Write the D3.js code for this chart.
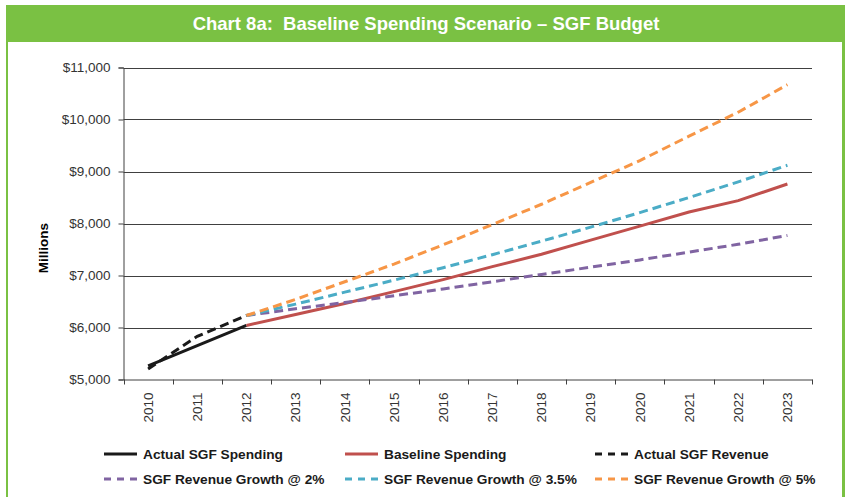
<!DOCTYPE html>
<html>
<head>
<meta charset="utf-8">
<script src="https://cdn.jsdelivr.net/npm/d3@7"></script>
<style>
  body { margin: 0; background: #fff; }
  svg { display: block; font-family: "Liberation Sans", Arial, sans-serif; }
</style>
</head>
<body>
<div id="chart"></div>
<script>
// data
const years = ["2010","2011","2012","2013","2014","2015","2016","2017","2018","2019","2020","2021","2022","2023"];
const actualSpending = [5260, 5650, 6040, null, null, null, null, null, null, null, null, null, null, null];
const baselineSpending = [null, null, 6040, 6250, 6460, 6690, 6920, 7170, 7410, 7680, 7950, 8220, 8440, 8760];
const actualRevenue = [5200, 5830, 6230, null, null, null, null, null, null, null, null, null, null, null];
const growth2 = [null, null, 6230, 6360, 6480, 6610, 6740, 6880, 7020, 7160, 7300, 7450, 7600, 7770];
const growth35 = [null, null, 6230, 6450, 6680, 6910, 7150, 7400, 7660, 7930, 8210, 8500, 8800, 9120];
const growth5 = [null, null, 6230, 6540, 6880, 7220, 7590, 7980, 8370, 8790, 9210, 9680, 10140, 10670];
const yTicks = [5000, 6000, 7000, 8000, 9000, 10000, 11000];

const series = [
  { name: "Actual SGF Spending", values: actualSpending, color: "#1a1a1a", dash: null },
  { name: "Baseline Spending", values: baselineSpending, color: "#c0504d", dash: null },
  { name: "Actual SGF Revenue", values: actualRevenue, color: "#1a1a1a", dash: "9,5" },
  { name: "SGF Revenue Growth @ 2%", values: growth2, color: "#8064a2", dash: "9,5" },
  { name: "SGF Revenue Growth @ 3.5%", values: growth35, color: "#4bacc6", dash: "9,5" },
  { name: "SGF Revenue Growth @ 5%", values: growth5, color: "#f79646", dash: "9,5" }
];

const width = 845;
const height = 497;
const margin = { top: 67.5, right: 33, bottom: 117.5, left: 123.5 };
const green = "#7ac143";

const svg = d3.select("#chart")
  .append("svg")
  .attr("width", width)
  .attr("height", height);

// frame and title bar
svg.append("rect").attr("x", 6).attr("y", 5).attr("width", 2).attr("height", height - 5).attr("fill", green);
svg.append("rect").attr("x", 842).attr("y", 5).attr("width", 3).attr("height", height - 5).attr("fill", green);
svg.append("rect").attr("x", 6).attr("y", 5).attr("width", width - 6).attr("height", 37).attr("fill", green);
svg.append("text")
  .attr("x", 426)
  .attr("y", 30)
  .attr("text-anchor", "middle")
  .attr("fill", "#fff")
  .attr("font-weight", "bold")
  .attr("font-size", 18.5)
  .style("white-space", "pre")
  .text("Chart 8a:  Baseline Spending Scenario \u2013 SGF Budget");

const x = d3.scaleBand()
  .domain(years)
  .range([margin.left, width - margin.right]);

const y = d3.scaleLinear()
  .domain([5000, 11000])
  .range([height - margin.bottom, margin.top]);

// y axis
const yAxis = svg.append("g")
  .attr("transform", `translate(${margin.left},0)`)
  .call(d3.axisLeft(y)
    .tickValues(yTicks)
    .tickSize(5)
    .tickPadding(8)
    .tickFormat(d => "$" + d3.format(",")(d)));
yAxis.select(".domain").attr("stroke", "#404040");
yAxis.selectAll(".tick line").attr("stroke", "#404040");
yAxis.selectAll(".tick text")
  .attr("font-size", 13.5)
  .attr("fill", "#333")
  .attr("font-family", "Liberation Sans, Arial, sans-serif");

// gridlines
svg.append("g")
  .selectAll("line")
  .data(yTicks.filter(d => d > 5000))
  .join("line")
  .attr("x1", margin.left)
  .attr("x2", width - margin.right)
  .attr("y1", d => Math.round(y(d)) + 0.5)
  .attr("y2", d => Math.round(y(d)) + 0.5)
  .attr("stroke", "#404040")
  .attr("stroke-width", 1);

// x axis, ticks at band edges
const xAxis = svg.append("g")
  .attr("transform", `translate(0,${y(5000)})`)
  .call(d3.axisBottom(x).tickSize(0).tickPadding(0));
xAxis.select(".domain").attr("stroke", "#404040");
xAxis.selectAll(".tick text")
  .attr("font-size", 13.5)
  .attr("fill", "#333")
  .attr("font-family", "Liberation Sans, Arial, sans-serif")
  .attr("text-anchor", "end")
  .attr("dy", "0.35em")
  .attr("transform", "translate(0,13) rotate(-90)");

const edges = years.map(d => x(d)).concat([x(years[years.length - 1]) + x.bandwidth()]);
svg.append("g")
  .selectAll("line")
  .data(edges)
  .join("line")
  .attr("x1", d => Math.round(d) + 0.5)
  .attr("x2", d => Math.round(d) + 0.5)
  .attr("y1", y(5000))
  .attr("y2", y(5000) + 5)
  .attr("stroke", "#404040");

// y title
svg.append("text")
  .attr("transform", "translate(48,248) rotate(-90)")
  .attr("text-anchor", "middle")
  .attr("font-weight", "bold")
  .attr("font-size", 13.5)
  .attr("fill", "#000")
  .text("Millions");

// lines
const line = d3.line()
  .defined(d => d.v != null)
  .x(d => x(d.year) + x.bandwidth() / 2)
  .y(d => y(d.v));

svg.append("g")
  .selectAll("path")
  .data(series)
  .join("path")
  .attr("fill", "none")
  .attr("stroke", d => d.color)
  .attr("stroke-width", 3)
  .attr("stroke-dasharray", d => d.dash)
  .attr("d", d => line(years.map((year, i) => ({ year, v: d.values[i] }))));

// legend
const legendX = [104, 345, 595];
const legendY = [454, 479];
const legend = svg.append("g")
  .selectAll("g")
  .data(series)
  .join("g")
  .attr("transform", (d, i) => `translate(${legendX[i % 3]},${legendY[Math.floor(i / 3)]})`);

legend.append("line")
  .attr("x1", 0)
  .attr("x2", 33)
  .attr("stroke", d => d.color)
  .attr("stroke-width", 3)
  .attr("stroke-dasharray", d => d.dash ? "7,6" : null);

legend.append("text")
  .attr("x", 39)
  .attr("dy", "0.35em")
  .attr("font-size", 13.7)
  .attr("font-weight", "bold")
  .attr("fill", "#1a1a1a")
  .text(d => d.name);
</script>
</body>
</html>
